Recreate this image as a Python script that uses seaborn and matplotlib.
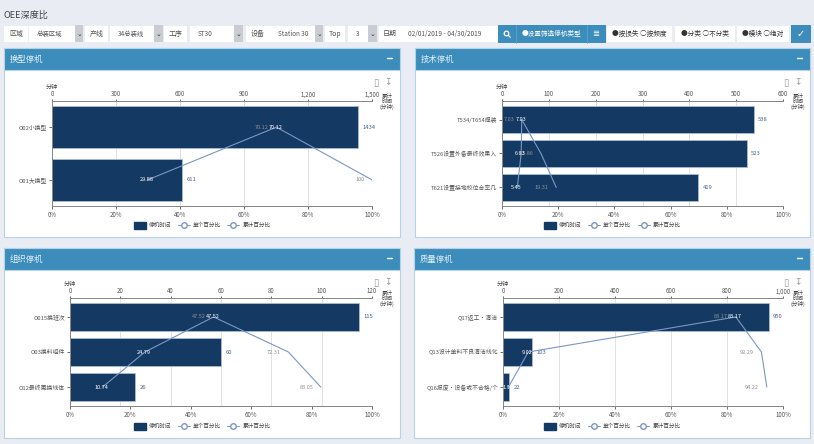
import numpy as np
import pandas as pd
import seaborn as sns
import matplotlib
matplotlib.use("Agg")
import matplotlib.pyplot as plt
from matplotlib.patches import Rectangle, Circle
from matplotlib.lines import Line2D

sns.set_theme(style="white")
plt.rcParams['font.family'] = ['Noto Sans CJK SC', 'DejaVu Sans']

titles = ["换型停机", "技术停机", "组织停机", "质量停机"]
cats_a = ["O02小换型", "O01大换型"]
cats_b = ["T534/T654焊装", "T526设置外备最终效果入", "T621设置接地校位合率几"]
cats_c = ["O015换班次", "O03换料组件", "O12最终更换线体"]
cats_d = ["Q17返工·清洁", "Q13设计单料不良清洁线化", "Q16报废·设备或不合格/个"]
mins_a = [1434, 611]
mins_b = [538, 523, 419]
mins_c = [115, 60, 26]
mins_d = [950, 103, 22]
single_a = [70.12, 29.88]
single_b = [7.03, 6.83, 5.45]
single_c = [47.52, 24.79, 10.74]
single_d = [83.17, 9.02, 1.93]
cumul_a = [70.12, 100]
cumul_b = [7.03, 13.86, 19.31]
cumul_c = [47.52, 72.31, 83.05]
cumul_d = [83.17, 92.29, 94.22]
top_ticks_a = [0, 300, 600, 900, 1200, 1500]
top_ticks_b = [0, 100, 200, 300, 400, 500, 600]
top_ticks_c = [0, 20, 40, 60, 80, 100, 120]
top_ticks_d = [0, 200, 400, 600, 800, 1000]
pct_ticks = [0, 20, 40, 60, 80, 100]
legend_names = ["停机时间", "单个百分比", "累计百分比"]
toolbar_labels = ["区域", "产线", "工序", "设备", "Top", "日期"]
toolbar_values = ["总装区域", "34总装线", "ST30", "Station 30", "3"]
date_range = "02/01/2019 - 04/30/2019"

W, H = 814, 444
BG = "#e9edf3"; HEAD = "#3c8dbc"; EDGE = "#b5d3e7"; BAR = "#143a63"
LINE = "#7a96c8"; TXT = "#555555"; VAL = "#3f6296"

fig = plt.figure(figsize=(W/100, H/100), dpi=100, facecolor=BG)
bg = fig.add_axes([0, 0, 1, 1]); bg.set_xlim(0, W); bg.set_ylim(H, 0); bg.axis("off")

def box(x0, x1, y0=26, y1=42, c="white", ec="none"):
    bg.add_patch(Rectangle((x0, y0), x1-x0, y1-y0, fc=c, ec=ec, lw=0.8))

bg.text(4, 15, "OEE深度比", fontsize=6.6, color="#444444", va="center")

# toolbar
lab_x = [(4, 28), (85, 108), (164, 187), (246, 270), (325, 345), (379, 400)]
sel_x = [(29, 75, 83), (110, 154, 163), (190, 234, 243), (270, 315, 323), (348, 368, 377)]
for (a, b), t in zip(lab_x, toolbar_labels):
    box(a, b); bg.text((a+b)/2, 34, t, fontsize=5, color=TXT, ha="center", va="center")
for (a, b, c), t in zip(sel_x, toolbar_values):
    box(a, b); box(b, c, 25, 42.5, "#c9ccd1")
    bg.text(a+8, 34, t, fontsize=4.6, color=TXT, va="center")
    bg.text((b+c)/2, 34, "⌄", fontsize=5, color="#333333", ha="center", va="center", family="DejaVu Sans")
box(400, 498); bg.text(408, 34, date_range, fontsize=4.7, color=TXT, va="center")
box(498, 606, 25, 43, HEAD)
bg.plot([516, 516], [25, 43], color="#5aa2cc", lw=0.6); bg.plot([587, 587], [25, 43], color="#5aa2cc", lw=0.6)
# search icon (shape)
bg.add_patch(Circle((506.5, 33.5), 2.3, fc="none", ec="white", lw=0.9))
bg.plot([508.2, 510.2], [35.2, 37.2], color="white", lw=0.9)
bg.text(551, 34, "●设置筛选停机类型", fontsize=4.8, color="white", ha="center", va="center")
bg.text(596, 34, "≣", fontsize=6, color="white", ha="center", va="center", family="DejaVu Sans")
for (a, b), t in zip([(607, 672), (675, 735), (737, 789)], ["●按损失 ○按频度", "●分类 ○不分类", "●模块 ○绝对"]):
    box(a, b); bg.text((a+b)/2, 34, t, fontsize=4.8, color="#333333", ha="center", va="center")
box(791, 811, 25, 43, HEAD)
bg.text(801, 34, "✓", fontsize=7, color="white", ha="center", va="center", family="DejaVu Sans")

panels = [
 dict(box=(4, 400, 48, 237), plot=(52, 372, 101, 206), cats=cats_a, mins=mins_a, s=single_a, c=cumul_a, tt=top_ticks_a, lim=1500, sw=0.81, title=titles[0]),
 dict(box=(415, 810, 48, 237), plot=(502, 783, 101, 206), cats=cats_b, mins=mins_b, s=single_b, c=cumul_b, tt=top_ticks_b, lim=600, sw=0.81, title=titles[1]),
 dict(box=(4, 400, 248, 438), plot=(70, 372, 298, 406), cats=cats_c, mins=mins_c, s=single_c, c=cumul_c, tt=top_ticks_c, lim=120, sw=0.8, title=titles[2]),
 dict(box=(414, 810, 248, 438), plot=(503, 783, 298, 406), cats=cats_d, mins=mins_d, s=single_d, c=cumul_d, tt=top_ticks_d, lim=1000, sw=0.8, title=titles[3]),
]

for p in panels:
    x0, x1, y0, y1 = p["box"]
    box(x0, x1, y0, y1, "white", EDGE)
    box(x0, x1, y0, y0+22, HEAD, EDGE)
    bg.text(x0+6, y0+11, p["title"], fontsize=6.0, color="#e4f0f7", va="center")
    bg.plot([x1-13, x1-8], [y0+10, y0+10], color="white", lw=1)
    bg.text(x1-24, y0+35, "▯", fontsize=7, color="#999999", ha="center", va="center", family="DejaVu Sans")
    bg.text(x1-12, y0+35, "↧", fontsize=6.5, color="#999999", ha="center", va="center", family="DejaVu Sans")

    l, r, t, b = p["plot"]
    ax = fig.add_axes([l/W, 1-b/H, (r-l)/W, (b-t)/H], facecolor="none", zorder=3)
    top = ax.twiny(); top.set_zorder(2); ax.set_zorder(3)
    df = pd.DataFrame({"cat": p["cats"], "min": p["mins"], "s": p["s"], "c": p["c"]})
    df["pos"] = np.arange(len(df))
    sns.barplot(data=df, x="min", y="cat", orient="y", ax=top, color=BAR, saturation=1,
                width=p["sw"], edgecolor="#a9bdd2", linewidth=0.6, zorder=2)
    top.set_xlim(0, p["lim"]); top.set_xticks(p["tt"])
    top.set_xticklabels([f"{v:,}" for v in p["tt"]])
    top.grid(axis="x", color="#dddddd", lw=0.6); top.set_axisbelow(True)
    top.set_xlabel(""); top.set_ylabel("")
    top.xaxis.set_ticks_position("top"); top.xaxis.set_label_position("top")
    top.tick_params(axis="x", labelsize=4.4, colors=TXT, length=1.5, width=0.6, pad=0.5)

    sns.lineplot(data=df, x="s", y="pos", orient="y", sort=False, estimator=None, ax=ax, color=LINE, lw=0.8)
    sns.lineplot(data=df, x="c", y="pos", orient="y", sort=False, estimator=None, ax=ax, color=LINE, lw=0.8)
    ax.set_xlim(0, 100); ax.set_ylim(top.get_ylim())
    ax.set_xticks(pct_ticks); ax.set_xticklabels([f"{v}%" for v in pct_ticks])
    ax.set_yticks(df["pos"]); ax.set_yticklabels(p["cats"])
    ax.set_xlabel(""); ax.set_ylabel("")
    ax.tick_params(axis="x", labelsize=4.4, colors=TXT, length=2, width=0.6, pad=1.5, bottom=True)
    ax.tick_params(axis="y", labelsize=4.2, colors=TXT, length=2, width=0.6, pad=1.5, left=True)
    top.tick_params(axis="y", left=False, labelleft=False)
    for a in (ax, top):
        for s in ("left", "right", "top", "bottom"):
            a.spines[s].set_visible(s in ("left", "bottom", "top"))
            a.spines[s].set_color("#888888"); a.spines[s].set_linewidth(0.7)

    for i, row in df.iterrows():
        top.annotate(str(row["min"]), (row["min"], i), xytext=(3, 0), textcoords="offset points",
                     fontsize=4.2, color=VAL, va="center", annotation_clip=False)
        ax.annotate(f"{row['s']:g}", (row["s"], i), xytext=(-0.5, 0), textcoords="offset points",
                    fontsize=4.0, color="white", ha="center", va="center", annotation_clip=False, zorder=6)
        ax.annotate(f"{row['c']:g}", (row["c"], i), xytext=(-5.5, 0), textcoords="offset points",
                    fontsize=4.0, color="#8f8f8f", ha="right", va="center", annotation_clip=False, zorder=5)

    bg.text(l, t-14.5, "分钟", fontsize=4.4, color="#444444", ha="center", va="center")
    bg.text(r+15, t+1, "累计\n时间\n(分钟)", fontsize=4.0, color="#444444", ha="center", va="center", linespacing=1.0, zorder=9)

    handles = [Rectangle((0, 0), 1, 1, fc=BAR, ec=BAR),
               Line2D([], [], color=LINE, lw=0.7, marker="o", mfc="white", mec=LINE, ms=4),
               Line2D([], [], color=LINE, lw=0.7, marker="o", mfc="white", mec=LINE, ms=4)]
    leg = bg.legend(handles, legend_names, loc="center", bbox_to_anchor=((x0+x1)/2/W, 1-(y1-11.5)/H),
                    bbox_transform=fig.transFigure, ncol=3, frameon=False, fontsize=4.1, columnspacing=1.2,
                    handlelength=2.1, handleheight=1.5, handletextpad=0.5, labelcolor="#444444")
    bg.add_artist(leg)
    bg.legend_ = None

fig.savefig("out.png", dpi=100, facecolor=BG)
